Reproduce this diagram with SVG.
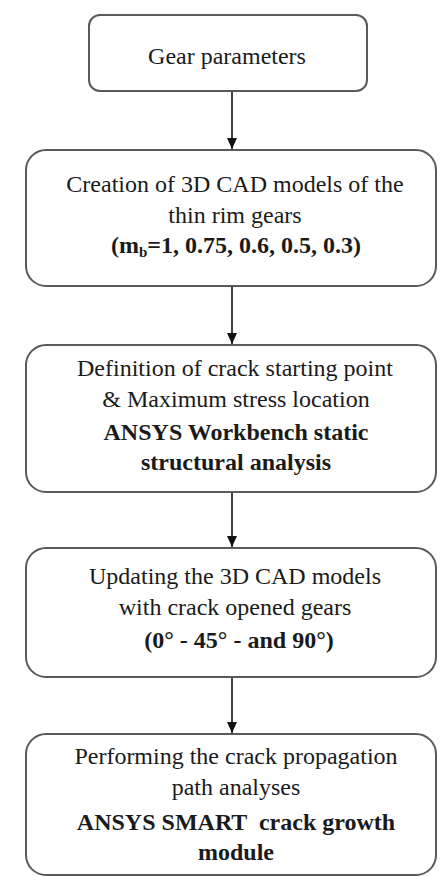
<svg xmlns="http://www.w3.org/2000/svg" width="446" height="876" viewBox="0 0 446 876">
  <defs>
    <marker id="arrow" markerWidth="12" markerHeight="10" refX="11" refY="5" orient="auto" markerUnits="userSpaceOnUse">
      <path d="M0,0 L11,5 L0,10 Z" fill="#111"/>
    </marker>
    <style>
      .box { fill: #ffffff; stroke: #5a5a5a; stroke-width: 2; }
      .txt { font-family: 'Liberation Serif', 'DejaVu Serif', serif; font-size: 24px; fill: #1a1a1a; text-anchor: middle; }
      .b { font-weight: bold; }
      .conn { stroke: #111; stroke-width: 1.6; fill: none; }
    </style>
  </defs>
  <rect width="446" height="876" fill="#ffffff"/>

  <g id="connectors">
    <line class="conn" x1="232" y1="91" x2="232" y2="149" marker-end="url(#arrow)"/>
    <line class="conn" x1="232" y1="286" x2="232" y2="344" marker-end="url(#arrow)"/>
    <line class="conn" x1="232" y1="492" x2="232" y2="547" marker-end="url(#arrow)"/>
    <line class="conn" x1="232" y1="677" x2="232" y2="733" marker-end="url(#arrow)"/>
  </g>

  <g id="gear-parameters">
    <rect class="box" x="89" y="15" width="278" height="76" rx="11"/>
    <text class="txt" x="227" y="64" font-family="Liberation Serif">Gear parameters</text>
  </g>

  <g id="cad-models">
    <rect class="box" x="26" y="150" width="410" height="136" rx="20"/>
    <text class="txt" x="235" y="192">Creation of 3D CAD models of the</text>
    <text class="txt" x="235" y="223">thin rim gears</text>
    <text class="txt b" x="236" y="253">(m<tspan font-size="15" dy="4">b</tspan><tspan dy="-4">=1, 0.75, 0.6, 0.5, 0.3)</tspan></text>
  </g>

  <g id="static-analysis">
    <rect class="box" x="26" y="345" width="410" height="147" rx="20"/>
    <text class="txt" x="235" y="376">Definition of crack starting point</text>
    <text class="txt" x="236" y="407">&amp; Maximum stress location</text>
    <text class="txt b" x="236" y="440">ANSYS Workbench static</text>
    <text class="txt b" x="236" y="470">structural analysis</text>
  </g>

  <g id="crack-models">
    <rect class="box" x="26" y="548" width="410" height="129" rx="20"/>
    <text class="txt" x="235" y="584">Updating the 3D CAD models</text>
    <text class="txt" x="235" y="615">with crack opened gears</text>
    <text class="txt b" x="239" y="648">(0° - 45° - and 90°)</text>
  </g>

  <g id="crack-growth">
    <rect class="box" x="26" y="734" width="410" height="141" rx="20"/>
    <text class="txt" x="236" y="764">Performing the crack propagation</text>
    <text class="txt" x="236" y="795">path analyses</text>
    <text class="txt b" x="236" y="830" xml:space="preserve">ANSYS SMART  crack growth</text>
    <text class="txt b" x="236" y="860">module</text>
  </g>
</svg>
